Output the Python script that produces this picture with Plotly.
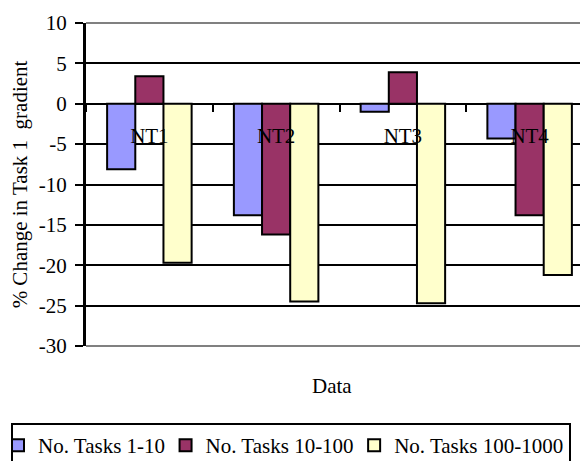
import plotly.graph_objects as go

categories = ["NT1", "NT2", "NT3", "NT4"]
series_names = ["No. Tasks 1-10\u00a0\u00a0", "No. Tasks 10-100\u00a0\u00a0", "No. Tasks 100-1000"]
tasks_1_10 = [-8.1, -13.8, -1.0, -4.3]
tasks_10_100 = [3.4, -16.2, 3.9, -13.8]
tasks_100_1000 = [-19.7, -24.5, -24.7, -21.2]
colors = ["#9999FF", "#993366", "#FFFFCC"]
y_ticks = [10, 5, 0, -5, -10, -15, -20, -25, -30]
y_tick_labels = ["10", "5", "0", "-5", "-10", "-15", "-20", "-25", "-30"]
y_title = "% Change in Task 1 \u00a0gradient"
x_title = "Data"

FONT = "Liberation Serif, Times New Roman, serif"
OFF = 8  # page body margin
W, H = 588 - OFF, 461 - OFF
ML, MR, MT = 86 - OFF, 0, 23 - OFF
MB = H - (346 - OFF)
plot_w = W - ML - MR
plot_h = H - MT - MB

def px_x(x):
    return (x - OFF - ML) / plot_w

def px_y(y):
    return (H - MB - (y - OFF)) / plot_h

ymin, ymax = min(y_ticks), max(y_ticks)
fig = go.Figure()
for name, vals, col in zip(series_names, [tasks_1_10, tasks_10_100, tasks_100_1000], colors):
    fig.add_trace(go.Bar(x=categories, y=vals, name=name,
                         marker=dict(color=col, line=dict(color="black", width=2))))

cat_px = 126.75
x_range = [-0.5, -0.5 + plot_w / cat_px]
zero_pos = (0 - ymin) / (ymax - ymin)

fig.update_layout(
    width=W, height=H,
    margin=dict(l=ML, r=MR, t=MT, b=MB, autoexpand=False),
    paper_bgcolor="white", plot_bgcolor="white",
    font=dict(family=FONT, size=21, color="black"),
    barmode="group", bargap=1.5 / 4.5, bargroupgap=0,
    showlegend=True,
    legend=dict(orientation="h", x=px_x(11), xanchor="left",
                y=px_y(423), yanchor="top", indentation=-15,
                bordercolor="black", borderwidth=2, bgcolor="white",
                font=dict(family=FONT, size=21, color="black"),
                traceorder="normal"),
    xaxis=dict(range=x_range, anchor="free", position=zero_pos,
               showline=False, showgrid=False, zeroline=False,
               ticks="outside", tickson="boundaries", ticklen=7, tickwidth=2,
               tickcolor="black", ticklabelstandoff=17,
               tickfont=dict(family=FONT, size=21, color="black")),
    yaxis=dict(range=[ymin, ymax], tickvals=y_ticks, ticktext=y_tick_labels,
               showline=True, linecolor="black", linewidth=3,
               showgrid=True, gridcolor="black", gridwidth=2,
               zeroline=False,
               ticks="outside", ticklen=8, tickwidth=2, tickcolor="black",
               ticklabelstandoff=4,
               tickfont=dict(family=FONT, size=21, color="black"),
               title=dict(text=y_title, font=dict(family=FONT, size=21, color="black"),
                          standoff=6)),
    shapes=[
        dict(type="line", xref="paper", yref="paper", x0=0, x1=1, y0=1, y1=1,
             line=dict(color="#808080", width=2), layer="above"),
        dict(type="line", xref="paper", yref="paper", x0=0, x1=1, y0=0, y1=0,
             line=dict(color="#808080", width=2), layer="above"),
    ],
    annotations=[
        dict(text=x_title, xref="paper", yref="paper",
             x=px_x(332), y=px_y(386),
             xanchor="center", yanchor="middle", showarrow=False,
             font=dict(family=FONT, size=21, color="black")),
    ],
)

fig.write_html("out.html")
